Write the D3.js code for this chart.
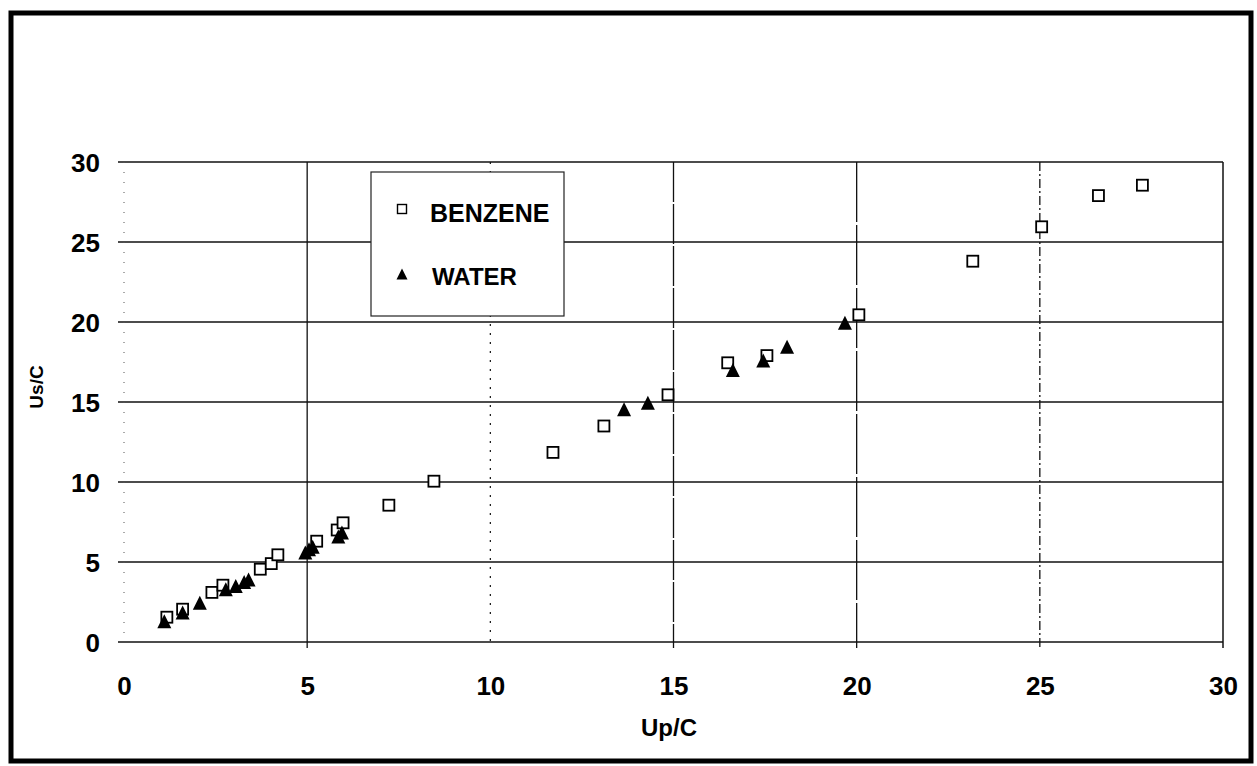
<!DOCTYPE html>
<html>
<head>
<meta charset="utf-8">
<script src="https://cdn.jsdelivr.net/npm/d3@7/dist/d3.min.js"></script>
<style>
  html, body { margin: 0; padding: 0; background: #fff; }
  svg { display: block; }
  text { font-family: "Liberation Sans", Arial, sans-serif; font-weight: bold; fill: #000; }
</style>
</head>
<body>
<svg id="chart" width="1257" height="766"></svg>
<script>
// Shock velocity vs particle velocity, both scaled by sound speed C
const seriesNames = ["BENZENE", "WATER"];

const benzeneUp = [1.17, 1.6, 2.4, 2.7, 3.72, 4.02, 4.2, 5.26, 5.82, 5.98, 7.23, 8.46,
                   11.71, 13.1, 14.85, 16.48, 17.55, 20.06, 23.17, 25.05, 26.6, 27.8];
const benzeneUs = [1.55, 2.05, 3.1, 3.55, 4.55, 4.9, 5.45, 6.3, 7.0, 7.45, 8.55, 10.05,
                   11.85, 13.5, 15.45, 17.45, 17.9, 20.45, 23.8, 25.95, 27.9, 28.55];

const waterUp = [1.1, 1.6, 2.07, 2.78, 3.05, 3.28, 3.4, 4.95, 5.05, 5.15, 5.85, 5.95,
                 13.65, 14.3, 16.62, 17.45, 18.1, 19.68];
const waterUs = [1.3, 1.85, 2.45, 3.3, 3.5, 3.75, 3.9, 5.6, 5.8, 5.95, 6.6, 6.85,
                 14.55, 14.95, 17.0, 17.6, 18.45, 19.95];

const xTicks = [0, 5, 10, 15, 20, 25, 30];
const yTicks = [0, 5, 10, 15, 20, 25, 30];
const xTitle = "Up/C";
const yTitle = "Us/C";

const svg = d3.select("#chart");

// outer frame
svg.append("rect")
  .attr("x", 11).attr("y", 13)
  .attr("width", 1240).attr("height", 748)
  .attr("fill", "none").attr("stroke", "#000").attr("stroke-width", 5);

const x = d3.scaleLinear().domain([0, 30]).range([124, 1223]);
const y = d3.scaleLinear().domain([0, 30]).range([642, 162]);

// vertical grid line dash patterns per tick value
const vDash = { 0: "1,9", 5: null, 10: "2,7", 15: "40,2", 20: "60,3", 25: "9,3,2,3", 30: null };
const vWidth = { 0: 1, 5: 1.3, 10: 1.2, 15: 1.3, 20: 1.3, 25: 1.3, 30: 1.5 };

const grid = svg.append("g");

// horizontal grid lines (with short outward tick on the left)
grid.selectAll("line.h").data(yTicks).enter().append("line")
  .attr("class", "h")
  .attr("x1", x(0) - 6).attr("x2", x(30))
  .attr("y1", d => y(d)).attr("y2", d => y(d))
  .attr("stroke", "#111").attr("stroke-width", 1.6);

// vertical grid lines (with short outward tick at the bottom)
grid.selectAll("line.v").data(xTicks).enter().append("line")
  .attr("class", "v")
  .attr("x1", d => x(d)).attr("x2", d => x(d))
  .attr("y1", y(30)).attr("y2", d => d === 0 ? y(0) : y(0) + 6)
  .attr("stroke", d => d === 0 ? "#555" : "#111")
  .attr("stroke-width", d => vWidth[d])
  .attr("stroke-dasharray", d => vDash[d]);

// tick labels via d3 axes
const xAxis = d3.axisBottom(x).tickValues(xTicks).tickSize(0).tickPadding(0).tickFormat(d3.format("d"));
const gx = svg.append("g").attr("transform", `translate(0,${y(0)})`).call(xAxis);
gx.select(".domain").remove();
gx.selectAll("text")
  .attr("dy", null).attr("y", 53)
  .style("font-size", "26px").style("font-family", "'Liberation Sans', Arial, sans-serif")
  .style("font-weight", "bold").attr("fill", "#000");

const yAxis = d3.axisLeft(y).tickValues(yTicks).tickSize(0).tickPadding(0).tickFormat(d3.format("d"));
const gy = svg.append("g").attr("transform", `translate(100,0)`).call(yAxis);
gy.select(".domain").remove();
gy.selectAll("text")
  .attr("dy", null).attr("x", 0).attr("y", 9)
  .style("font-size", "26px").style("font-family", "'Liberation Sans', Arial, sans-serif")
  .style("font-weight", "bold").attr("fill", "#000");

// axis titles
svg.append("text")
  .attr("x", 669).attr("y", 736)
  .attr("text-anchor", "middle")
  .style("font-size", "24px")
  .text(xTitle);

svg.append("text")
  .attr("transform", "translate(43,387) rotate(-90)")
  .attr("text-anchor", "middle")
  .style("font-size", "19px")
  .text(yTitle);

// markers
const sq = 11;
const triPath = s => `M0,${-s / 2}L${s / 2},${s / 2}L${-s / 2},${s / 2}Z`;

const benzene = benzeneUp.map((v, i) => ({ x: v, y: benzeneUs[i] }));
const water = waterUp.map((v, i) => ({ x: v, y: waterUs[i] }));

svg.append("g").selectAll("rect").data(benzene).enter().append("rect")
  .attr("x", d => x(d.x) - sq / 2).attr("y", d => y(d.y) - sq / 2)
  .attr("width", sq).attr("height", sq)
  .attr("fill", "#fff").attr("stroke", "#000").attr("stroke-width", 1.8);

svg.append("g").selectAll("path").data(water).enter().append("path")
  .attr("transform", d => `translate(${x(d.x)},${y(d.y)})`)
  .attr("d", triPath(14))
  .attr("fill", "#000");

// legend
const lg = svg.append("g");
lg.append("rect")
  .attr("x", 371).attr("y", 172).attr("width", 193).attr("height", 144)
  .attr("fill", "#fff").attr("stroke", "#222").attr("stroke-width", 1.2);

lg.append("rect")
  .attr("x", 402 - 4.5).attr("y", 209 - 4.5).attr("width", 9).attr("height", 9)
  .attr("fill", "#fff").attr("stroke", "#000").attr("stroke-width", 1.4);
lg.append("text").attr("x", 430).attr("y", 222).style("font-size", "25px").text(seriesNames[0]);

lg.append("path")
  .attr("transform", "translate(402,274)")
  .attr("d", triPath(11)).attr("fill", "#000");
lg.append("text").attr("x", 432).attr("y", 285).style("font-size", "24px").text(seriesNames[1]);
</script>
</body>
</html>
